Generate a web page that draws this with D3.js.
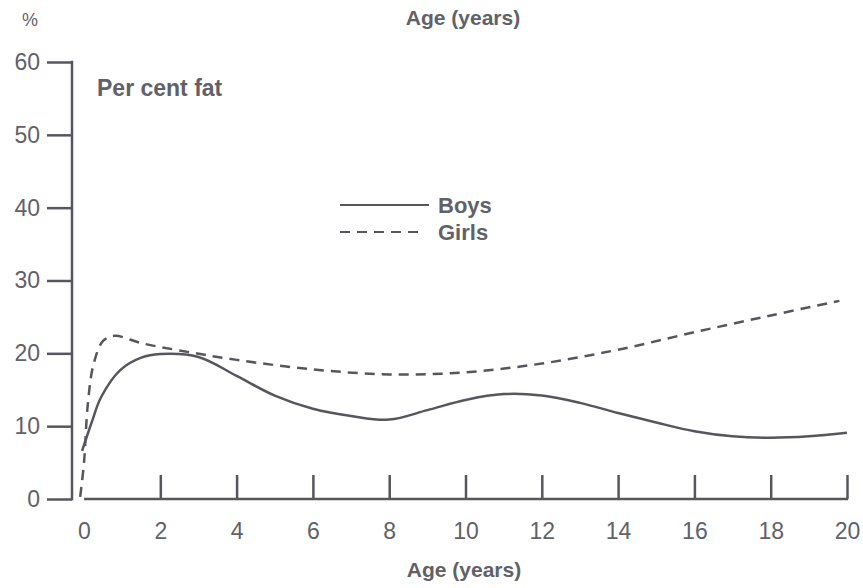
<!DOCTYPE html>
<html><head><meta charset="utf-8">
<script src="https://cdn.jsdelivr.net/npm/d3@7"></script>
<style>body{margin:0;background:#fff}svg{display:block}text{font-family:"Liberation Sans",Arial,sans-serif;fill:#616169}</style>
</head><body><svg id="c" width="863" height="588"></svg>
<script>
const xTicks = [0,2,4,6,8,10,12,14,16,18,20];
const yTicks = [0,10,20,30,40,50,60];
const boysAge = [-0.05,0.2,0.45,0.95,1.5,2,3,4,5,6,7,8,9,10,11,12,13,14,15,16,17,18,19,20];
const boysFat = [6.6,10.5,14,17.7,19.4,19.9,19.5,16.9,14.2,12.4,11.4,10.9,12.2,13.6,14.4,14.2,13.2,11.8,10.5,9.3,8.6,8.4,8.6,9.1];
const girlsAge = [-0.1,0,0.1,0.25,0.5,0.8,1.5,2.5,4,6,8,10,12,14,16,18,19.8];
const girlsFat = [0.3,5,13,18.5,21.7,22.4,21.4,20.4,19.1,17.8,17.1,17.4,18.6,20.5,22.9,25.2,27.2];
const seriesNames = ["Boys","Girls"];

const svg = d3.select("#c");
const col = "#56565f";
const tcol = "#616169";
const x = d3.scaleLinear().domain([0,20]).range([84,847]);
const y = d3.scaleLinear().domain([0,60]).range([499,62]);

// y axis
const ya = svg.append("g").attr("transform","translate(72,0)")
  .call(d3.axisLeft(y).tickValues(yTicks).tickSize(25).tickPadding(7));
ya.select(".domain").remove();
ya.append("line").attr("x1",0).attr("x2",0).attr("y1",y(60)-1.2).attr("y2",y(0)+1.2).attr("stroke",col).attr("stroke-width",2.5);
ya.selectAll(".tick line").attr("stroke",col).attr("stroke-width",2.5);
ya.selectAll(".tick text").attr("font-size",23).attr("fill",tcol).attr("font-family","Liberation Sans, Arial, sans-serif");

// x axis
const xa = svg.append("g").attr("transform","translate(0,499)")
  .call(d3.axisTop(x).tickValues(xTicks).tickSize(24));
xa.select(".domain").remove();
xa.append("line").attr("x1",x(0)).attr("x2",x(20)+1).attr("y1",0).attr("y2",0).attr("stroke",col).attr("stroke-width",2.5);
xa.selectAll(".tick line").attr("stroke",col).attr("stroke-width",2.5).attr("display",d=>d===0?"none":null);
xa.selectAll(".tick text").attr("y",40).attr("dy",0).attr("font-size",23).attr("fill",tcol).attr("font-family","Liberation Sans, Arial, sans-serif");

// curves
const line = d3.line().x(d=>x(d[0])).y(d=>y(d[1])).curve(d3.curveCatmullRom.alpha(0.5));
const boys = d3.zip(boysAge,boysFat), girls = d3.zip(girlsAge,girlsFat);
svg.append("path").attr("d",line(boys)).attr("fill","none").attr("stroke",col).attr("stroke-width",2.5);
svg.append("path").attr("d",line(girls)).attr("fill","none").attr("stroke",col).attr("stroke-width",2.5).attr("stroke-dasharray","10,7");

// texts
svg.append("text").attr("x",22).attr("y",26).attr("font-size",18).text("%");
svg.append("text").attr("x",463).attr("y",25).attr("font-size",21).attr("font-weight","bold").attr("text-anchor","middle").text("Age (years)");
svg.append("text").attr("x",464).attr("y",577).attr("font-size",21).attr("font-weight","bold").attr("text-anchor","middle").text("Age (years)");
svg.append("text").attr("x",97).attr("y",96).attr("font-size",23).attr("font-weight","bold").text("Per cent fat");

// legend
const lg = svg.append("g");
seriesNames.forEach((n,i)=>{
  const yy = 205 + i*27;
  lg.append("line").attr("x1",340).attr("x2",i===0?429:422).attr("y1",yy).attr("y2",yy)
    .attr("stroke",col).attr("stroke-width",2).attr("stroke-dasharray",i===0?null:"10,7");
  lg.append("text").attr("x",438).attr("y",yy+8).attr("font-size",22).attr("font-weight","bold").text(n);
});
</script></body></html>
